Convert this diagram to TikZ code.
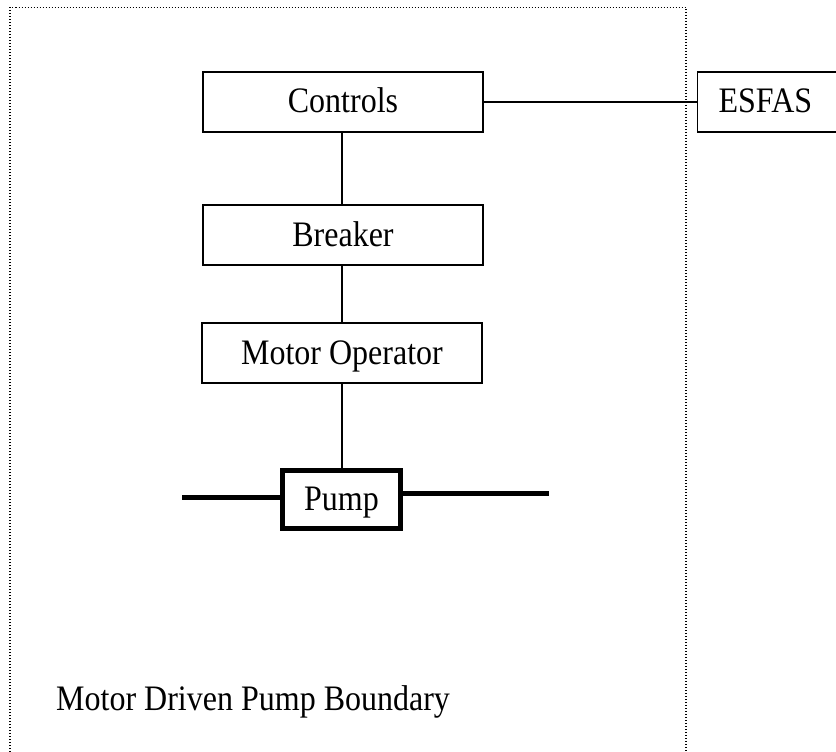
\documentclass[tikz,border=0pt]{standalone}
\usepackage{fontspec}
\setmainfont{Liberation Serif}
\usepackage{tikz}
\usetikzlibrary{calc}

\newcommand{\etire}[1]{\scalebox{1}[1.12]{#1}}

\tikzset{
  boite/.style={draw, line width=1.5pt, minimum width=280pt, minimum height=60pt,
    text height=24pt, text depth=2pt, inner sep=0pt},
  liaison/.style={line width=1.5pt},
  tuyau/.style={line width=5pt},
  limite/.style={line width=1.2pt, dash pattern=on 1pt off 2pt}
}

\begin{document}
\begin{tikzpicture}[x=1pt,y=-1pt,font=\fontsize{32}{38}\selectfont]
\useasboundingbox (0,0) rectangle (836,752);
%					Tracé du cadre pointillé :
\draw[limite] (10,752) -- (10,7.5) -- (686,7.5) -- (686,752);
%					Tracé des boîtes :
\node[boite] (controls) at (343,102) {\etire{Controls}};
\node[boite] (breaker) at (343,235) {\etire{Breaker}};
\node[boite] (motor) at (342,353) {\etire{Motor Operator}};
\node[boite, line width=5pt, minimum width=118pt, minimum height=58pt] (pump) at (341.5,499.5) {\etire{Pump}};
\node[boite, anchor=west, minimum width=0pt, inner xsep=21pt, text width=200pt, align=left] (esfas) at (696.75,102) {\etire{ESFAS}};
%					Tracé des liaisons :
\draw[liaison] (controls.east) -- (esfas.west);
\draw[liaison] (controls.south -| motor) -- (breaker.north -| motor);
\draw[liaison] (breaker.south -| motor) -- (motor.north);
\draw[liaison] (motor.south) -- (motor.south |- pump.north);
%					Tracé de la conduite :
\coordinate (entree) at (182,497);
\coordinate (sortie) at (549,493);
\draw[tuyau] (entree) -- (entree -| pump.west);
\draw[tuyau] (sortie -| pump.east) -- (sortie);
%					Légende :
\node[anchor=base west, inner sep=0pt] (etiquette) at (56,710) {\etire{Motor Driven Pump Boundary}};
\end{tikzpicture}
\end{document}
